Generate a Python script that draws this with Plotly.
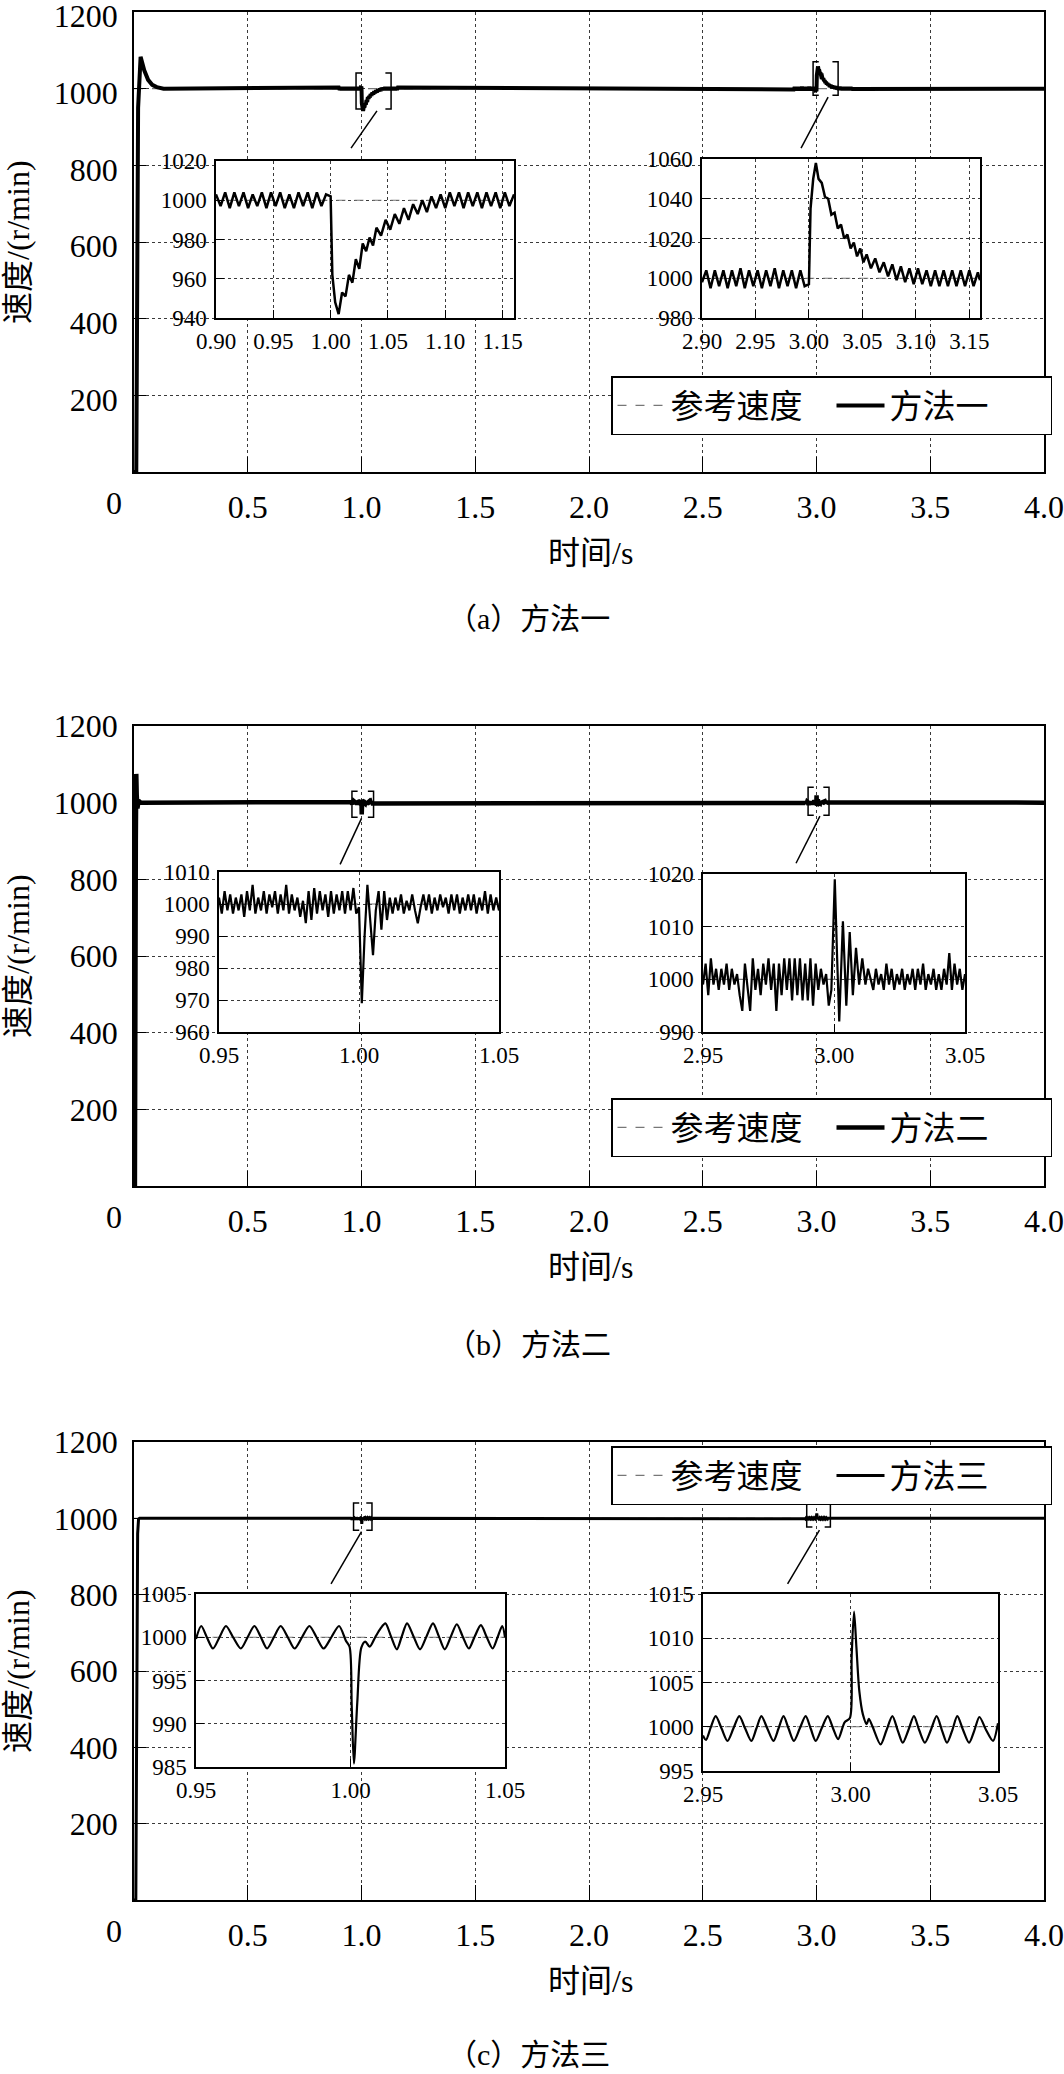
import plotly.graph_objects as go

W, H = 1064, 2074
FONT = "'Liberation Serif', 'Times New Roman', 'Noto Sans CJK SC', serif"

# ---------------- data ----------------
ref_t = [0.0, 4.0]
ref_v = [1000, 1000]
end_t = [4.0]
end_v = [1000]

# start-up transients (main plots)
start_a_t = [0.0, 0.010, 0.018, 0.024, 0.029, 0.035, 0.045, 0.062, 0.080, 0.100, 0.130]
start_a_v = [0, 0, 950, 1070, 1083, 1070, 1048, 1023, 1010, 1004, 1000]
start_b_t = [0.0, 0.004, 0.008, 0.010, 0.012, 0.015, 0.020, 0.030]
start_b_v = [0, 0, 900, 1075, 1020, 985, 1005, 1000]
start_c_t = [0.0, 0.008, 0.016, 0.020, 0.025]
start_c_v = [0, 0, 960, 998, 1000]

# method 1, load step at 1.0 s
a1_t = [0.900, 0.904, 0.908, 0.912, 0.916, 0.920, 0.924, 0.928, 0.932, 0.936, 0.940, 0.944, 0.948,
        0.952, 0.956, 0.960, 0.964, 0.968, 0.972, 0.976, 0.980, 0.984, 0.988, 0.992, 0.996,
        1.000, 1.0015, 1.004, 1.007, 1.010, 1.013, 1.016, 1.019, 1.022, 1.025, 1.028, 1.031, 1.034,
        1.037, 1.040, 1.044, 1.048, 1.052, 1.056, 1.060, 1.064, 1.068, 1.072, 1.076, 1.080, 1.084,
        1.088, 1.092, 1.096, 1.100, 1.104, 1.108, 1.112, 1.116, 1.120, 1.124, 1.128, 1.132, 1.136,
        1.140, 1.144, 1.148, 1.152, 1.156, 1.160]
a1_v = [1003, 997, 1004, 996, 1004, 997, 1004, 996, 1003, 997, 1004, 996, 1004,
        997, 1004, 996, 1003, 996, 1004, 997, 1004, 996, 1004, 997, 1003,
        1002, 962, 948, 942, 953, 951, 962, 958, 970, 965, 978, 974, 981,
        977, 986, 982, 990, 985, 993, 988, 996, 990, 998, 993, 1000, 994,
        1002, 996, 1003, 996, 1004, 997, 1004, 996, 1004, 997, 1004, 996, 1004,
        997, 1004, 996, 1004, 997, 1003]

# method 1, load removal at 3.0 s
a2_t = [2.900, 2.904, 2.908, 2.912, 2.916, 2.920, 2.924, 2.928, 2.932, 2.936, 2.940, 2.944, 2.948,
        2.952, 2.956, 2.960, 2.964, 2.968, 2.972, 2.976, 2.980, 2.984, 2.988, 2.992, 2.996,
        3.000, 3.0015, 3.004, 3.0065, 3.009, 3.012, 3.015, 3.018, 3.021, 3.024, 3.027, 3.030, 3.033,
        3.036, 3.039, 3.042, 3.045, 3.048, 3.051, 3.054, 3.058, 3.062, 3.066, 3.070, 3.074, 3.078,
        3.082, 3.086, 3.090, 3.094, 3.098, 3.102, 3.106, 3.110, 3.114, 3.118, 3.122, 3.126, 3.130,
        3.134, 3.138, 3.142, 3.146, 3.150, 3.154, 3.158, 3.160]
a2_v = [998, 1004, 995, 1004, 996, 1004, 995, 1004, 996, 1005, 995, 1004, 996,
        1004, 995, 1004, 996, 1005, 995, 1004, 996, 1004, 995, 1004, 996,
        997, 1035, 1050, 1058, 1050, 1048, 1041, 1040, 1032, 1033, 1025, 1027, 1020,
        1022, 1015, 1018, 1011, 1015, 1008, 1012, 1005, 1010, 1003, 1008, 1001, 1007,
        999, 1006, 998, 1005, 997, 1005, 997, 1004, 996, 1004, 996, 1004, 996,
        1004, 996, 1004, 996, 1004, 996, 1003, 999]

# method 2, load step at 1.0 s
b1_t = [0.950, 0.951, 0.952, 0.953, 0.954, 0.955, 0.956, 0.957, 0.958, 0.959,
        0.960, 0.961, 0.962, 0.963, 0.964, 0.965, 0.966, 0.967, 0.968, 0.969,
        0.970, 0.971, 0.972, 0.973, 0.974, 0.975, 0.976, 0.977, 0.978, 0.979,
        0.980, 0.981, 0.982, 0.983, 0.984, 0.985, 0.986, 0.987, 0.988, 0.989,
        0.990, 0.991, 0.992, 0.993, 0.994, 0.995, 0.996, 0.997, 0.998, 0.999,
        1.000, 1.001, 1.002, 1.003, 1.004, 1.005, 1.006, 1.007, 1.008, 1.009,
        1.010, 1.011, 1.012, 1.013, 1.014, 1.015, 1.016, 1.017, 1.018, 1.019,
        1.020, 1.021, 1.022, 1.023, 1.024, 1.025, 1.026, 1.027, 1.028, 1.029,
        1.030, 1.031, 1.032, 1.033, 1.034, 1.035, 1.036, 1.037, 1.038, 1.039,
        1.040, 1.041, 1.042, 1.043, 1.044, 1.045, 1.046, 1.047, 1.048, 1.049, 1.050]
b1_v = [1002, 997, 1004, 998, 1003, 997, 1002, 998, 1003, 996,
        1004, 998, 1006, 997, 1002, 998, 1004, 997, 1003, 999,
        1004, 997, 1003, 998, 1006, 997, 1003, 998, 1002, 996,
        1001, 994, 1004, 995, 1005, 997, 1004, 998, 1003, 996,
        1004, 997, 1003, 998, 1004, 997, 1004, 998, 1005, 997,
        999, 969, 990, 1006, 995, 984, 998, 1004, 992, 1004,
        995, 1002, 997, 1002, 998, 1003, 997, 1001, 998, 1003,
        998, 994, 999, 1003, 998, 1003, 997, 1002, 998, 1003,
        999, 1002, 997, 1003, 998, 1003, 997, 1002, 998, 1003,
        998, 1003, 997, 1002, 998, 1004, 997, 1003, 998, 1002, 998]

# method 2, load removal at 3.0 s
b2_t = [2.950, 2.951, 2.952, 2.953, 2.954, 2.955, 2.956, 2.957, 2.958, 2.959,
        2.960, 2.961, 2.962, 2.963, 2.964, 2.965, 2.966, 2.967, 2.968, 2.969,
        2.970, 2.971, 2.972, 2.973, 2.974, 2.975, 2.976, 2.977, 2.978, 2.979,
        2.980, 2.981, 2.982, 2.983, 2.984, 2.985, 2.986, 2.987, 2.988, 2.989,
        2.990, 2.991, 2.992, 2.993, 2.994, 2.995, 2.996, 2.997, 2.998, 2.999,
        3.0003, 3.0012, 3.0020, 3.0034, 3.0047, 3.0060, 3.0072, 3.0084, 3.0096, 3.0108,
        3.0120, 3.013, 3.014,
        3.015, 3.016, 3.017, 3.018, 3.019, 3.020, 3.021, 3.022, 3.023, 3.024,
        3.025, 3.026, 3.027, 3.028, 3.029, 3.030, 3.031, 3.032, 3.033, 3.034,
        3.035, 3.036, 3.037, 3.038, 3.039, 3.040, 3.041, 3.042, 3.043, 3.044,
        3.045, 3.046, 3.047, 3.048, 3.049, 3.050]
b2_v = [999, 1003, 997, 1004, 999, 1002, 998, 1002, 999, 1003,
        998, 1002, 999, 1001, 997, 994, 1003, 998, 994, 1004,
        998, 1002, 997, 1003, 999, 1004, 998, 1003, 994, 1003,
        997, 1004, 998, 1004, 996, 1004, 997, 1004, 996, 1003,
        996, 1004, 995, 1003, 998, 1002, 999, 1001, 995, 998,
        1019, 1004, 992, 1011, 995, 1009, 997, 1006, 999, 1004,
        999, 1002, 1000,
        998, 1002, 999, 1001, 998, 1003, 999, 1002, 998, 1001,
        999, 1002, 998, 1001, 999, 1002, 998, 1002, 999, 1003,
        998, 1001, 999, 1002, 998, 1001, 998, 1002, 999, 1005,
        998, 1003, 999, 1002, 998, 1001]

# method 3, load step at 1.0 s
c1_t = [0.9500, 0.9517, 0.9535, 0.9555, 0.9576, 0.9597, 0.9620, 0.9645, 0.9667, 0.9689,
        0.9710, 0.9730, 0.9752, 0.9774, 0.9797, 0.9819, 0.9843, 0.9867, 0.9890, 0.9913,
        0.9938, 0.9963, 0.9985, 0.9997, 1.0004, 1.0011, 1.0022, 1.0035, 1.0048, 1.0062,
        1.0080, 1.0097, 1.0113, 1.0131, 1.0150, 1.0166, 1.0183, 1.0204, 1.0225, 1.0246,
        1.0267, 1.0286, 1.0305, 1.0325, 1.0344, 1.0363, 1.0383, 1.0402, 1.0422, 1.0441,
        1.0460, 1.0476, 1.0491, 1.0500]
c1_v = [999.8, 1001.3, 1000.0, 998.7, 1000.0, 1001.3, 1000.0, 998.7, 1000.0, 1001.3,
        1000.0, 998.7, 1000.0, 1001.3, 1000.0, 998.7, 1000.0, 1001.3, 1000.0, 998.7,
        1000.0, 1001.3, 999.6, 998.9, 992.0, 985.4, 992.5, 998.8, 999.5, 998.9,
        1000.0, 1001.0, 1001.6, 1000.1, 998.6, 1000.1, 1001.6, 1000.1, 998.6, 1000.1,
        1001.6, 1000.1, 998.6, 1000.1, 1001.5, 1000.1, 998.7, 1000.1, 1001.4, 1000.0,
        998.7, 1000.0, 1001.3, 1000.0]

# method 3, load removal at 3.0 s
c2_t = [2.9500, 2.9510, 2.9526, 2.9543, 2.9563, 2.9583, 2.9603, 2.9623, 2.9643, 2.9664,
        2.9681, 2.9698, 2.9718, 2.9739, 2.9756, 2.9773, 2.9790, 2.9808, 2.9828, 2.9848,
        2.9865, 2.9882, 2.9902, 2.9923, 2.9941, 2.9958, 2.9980, 2.9998, 3.0004, 3.0012,
        3.0020, 3.0030, 3.0042, 3.0055, 3.0062, 3.0075, 3.0102, 3.0122, 3.0142, 3.0160,
        3.0177, 3.0196, 3.0215, 3.0233, 3.0252, 3.0272, 3.0292, 3.0310, 3.0327, 3.0345,
        3.0362, 3.0382, 3.0402, 3.0420, 3.0437, 3.0460, 3.0483, 3.0500]
c2_v = [999.0, 998.5, 999.9, 1001.2, 999.8, 998.4, 999.8, 1001.2, 999.8, 998.4,
        999.8, 1001.2, 999.8, 998.4, 999.8, 1001.2, 999.8, 998.4, 999.8, 1001.2,
        999.8, 998.4, 999.8, 1001.2, 999.8, 998.6, 1000.5, 1001.0, 1008.0, 1013.0,
        1009.0, 1004.0, 1001.4, 1000.3, 1000.9, 1000.0, 998.0, 999.6, 1001.2, 999.6,
        998.2, 999.6, 1001.2, 999.6, 998.2, 999.6, 1001.2, 999.6, 998.2, 999.6,
        1001.2, 999.6, 998.2, 999.6, 1001.1, 999.6, 998.4, 1000.4]

# tick labels
main_xt = [0, 0.5, 1.0, 1.5, 2.0, 2.5, 3.0, 3.5, 4.0]
main_xtt = ["", "0.5", "1.0", "1.5", "2.0", "2.5", "3.0", "3.5", "4.0"]
main_yt = [200, 400, 600, 800, 1000, 1200]
a1_xt = [0.90, 0.95, 1.00, 1.05, 1.10, 1.15]
a1_xtt = ["0.90", "0.95", "1.00", "1.05", "1.10", "1.15"]
a1_yt = [940, 960, 980, 1000, 1020]
a2_xt = [2.90, 2.95, 3.00, 3.05, 3.10, 3.15]
a2_xtt = ["2.90", "2.95", "3.00", "3.05", "3.10", "3.15"]
a2_yt = [980, 1000, 1020, 1040, 1060]
b1_xt = [0.95, 1.00, 1.05]
b1_xtt = ["0.95", "1.00", "1.05"]
b1_yt = [960, 970, 980, 990, 1000, 1010]
b2_xt = [2.95, 3.00, 3.05]
b2_xtt = ["2.95", "3.00", "3.05"]
b2_yt = [990, 1000, 1010, 1020]
c1_yt = [985, 990, 995, 1000, 1005]
c2_yt = [995, 1000, 1005, 1010, 1015]

ref_name = "参考速度"
method_names = ["方法一", "方法二", "方法三"]
captions = ["（a）方法一", "（b）方法二", "（c）方法三"]
y_title = "速度/(r/min)"
x_title = "时间/s"

# ---------------- layout helpers ----------------
def fx(p):
    return p / W

def fy(p):
    return 1 - p / H

GRID = dict(showgrid=True, gridcolor="#3a3a3a", griddash="dot", gridwidth=1, zeroline=False,
            automargin=False, ticklabeloverflow="allow")
LINE = dict(showline=True, linecolor="black", linewidth=1.5, mirror=True)

fig = go.Figure()

# main panels: (y top px, y bottom px, legend top px, caption y px)
mains = [(12, 472, 376, 618), (726, 1186, 1098, 1344), (1442, 1900, 1446, 2054)]
main_x0, main_x1 = 134, 1044

main_series = [
    (start_a_t + a1_t + a2_t + end_t, start_a_v + a1_v + a2_v + end_v, 4.0),
    (start_b_t + b1_t + b2_t + end_t, start_b_v + b1_v + b2_v + end_v, 4.5),
    (start_c_t + c1_t + c2_t + end_t, start_c_v + c1_v + c2_v + end_v, 3.0),
]

layout = dict(template="none", width=W, height=H, margin=dict(l=0, r=0, t=0, b=0, pad=0, autoexpand=False),
              paper_bgcolor="white", plot_bgcolor="white",
              font=dict(family=FONT, color="black"), showlegend=True)
annotations = []
shapes = []

for i, (ytop, ybot, legtop, capy) in enumerate(mains):
    n = i + 1
    xs = "" if n == 1 else str(n)
    legname = "legend" if n == 1 else "legend%d" % n
    layout["xaxis" + xs] = dict(domain=[fx(main_x0), fx(main_x1)], range=[0, 4], anchor="y" + xs,
                               tickvals=main_xt, ticktext=main_xtt, ticks="inside", ticklen=15,
                               tickcolor="black", tickwidth=1.2, tickfont=dict(size=32, family=FONT),
                               ticklabelstandoff=6, **GRID, **LINE)
    layout["yaxis" + xs] = dict(domain=[fy(ybot), fy(ytop)], range=[0, 1200], anchor="x" + xs,
                               tickvals=main_yt, ticks="inside", ticklen=12, tickcolor="black",
                               tickwidth=1.2, tickfont=dict(size=32, family=FONT), ticklabelstandoff=8,
                               ticklabelshift=(4 if n == 1 else 0),
                               **GRID, **LINE)
    t, v, lw = main_series[i]
    fig.add_trace(go.Scatter(x=ref_t, y=ref_v, mode="lines", name=ref_name,
                             line=dict(color="#777", width=1.3, dash="dash"),
                             xaxis="x" + xs, yaxis="y" + xs, legend=legname))
    fig.add_trace(go.Scatter(x=t, y=v, mode="lines", name=method_names[i],
                             line=dict(color="black", width=lw),
                             xaxis="x" + xs, yaxis="y" + xs, legend=legname))
    layout[legname] = dict(x=fx(611), y=fy(legtop), xanchor="left", yanchor="top",
                           orientation="h", bgcolor="white", bordercolor="black", borderwidth=1.5,
                           font=dict(size=33, family=FONT), itemwidth=48, entrywidth=156,
                           tracegroupgap=0)
    ymid = (ytop + ybot) / 2
    annotations.append(dict(text=y_title, x=fx(18), y=fy(ymid), xref="paper", yref="paper",
                            textangle=-90, showarrow=False, font=dict(size=32, family=FONT),
                            xanchor="center", yanchor="middle"))
    annotations.append(dict(text=x_title, x=fx(590), y=fy(ybot + 81), xref="paper", yref="paper",
                            showarrow=False, font=dict(size=32, family=FONT), xanchor="center", yanchor="middle"))
    annotations.append(dict(text=captions[i], x=fx(528), y=fy(capy), xref="paper", yref="paper",
                            showarrow=False, font=dict(size=30, family=FONT), xanchor="center", yanchor="middle"))
    annotations.append(dict(text="0", x=fx(114), y=fy(ybot + 31), xref="paper", yref="paper",
                            showarrow=False, font=dict(size=32, family=FONT), xanchor="center", yanchor="middle"))

# insets
insets = [
    ((216, 514), (161, 318), [0.90, 1.16], [940, 1020], a1_xt, a1_xtt, a1_yt, (a1_t, a1_v), 2.5, "linear"),
    ((702, 980), (159, 318), [2.90, 3.16], [980, 1060], a2_xt, a2_xtt, a2_yt, (a2_t, a2_v), 2.5, "linear"),
    ((219, 499), (872, 1032), [0.95, 1.05], [960, 1010], b1_xt, b1_xtt, b1_yt, (b1_t, b1_v), 2.2, "linear"),
    ((703, 965), (874, 1032), [2.95, 3.05], [990, 1020], b2_xt, b2_xtt, b2_yt, (b2_t, b2_v), 2.2, "linear"),
    ((196, 505), (1594, 1767), [0.95, 1.05], [985, 1005], b1_xt, b1_xtt, c1_yt, (c1_t, c1_v), 2.2, "spline"),
    ((703, 998), (1594, 1771), [2.95, 3.05], [995, 1015], b2_xt, b2_xtt, c2_yt, (c2_t, c2_v), 2.2, "spline"),
]

for k, (xpx, ypx, xr, yr, xt, xtt, yt, (dt, dv), lw, shape) in enumerate(insets):
    n = k + 4
    xs = str(n)
    layout["xaxis" + xs] = dict(domain=[fx(xpx[0]), fx(xpx[1])], range=xr, anchor="y" + xs,
                               tickvals=xt, ticktext=xtt, ticks="inside", ticklen=8, tickcolor="black",
                               tickwidth=1.2, tickfont=dict(size=23, family=FONT), ticklabelstandoff=2,
                               **GRID, **LINE)
    layout["yaxis" + xs] = dict(domain=[fy(ypx[1]), fy(ypx[0])], range=yr, anchor="x" + xs,
                               tickvals=yt, ticks="inside", ticklen=8, tickcolor="black",
                               tickwidth=1.2, tickfont=dict(size=23, family=FONT), ticklabelstandoff=3,
                               **GRID, **LINE)
    shapes.append(dict(type="rect", xref="x" + xs, yref="y" + xs, x0=xr[0], x1=xr[1], y0=yr[0], y1=yr[1],
                       fillcolor="white", line=dict(width=0), layer="below"))
    fig.add_trace(go.Scatter(x=ref_t, y=ref_v, mode="lines", showlegend=False,
                             line=dict(color="#777", width=1.2, dash="dash"),
                             xaxis="x" + xs, yaxis="y" + xs))
    fig.add_trace(go.Scatter(x=dt, y=dv, mode="lines", showlegend=False,
                             line=dict(color="black", width=lw, shape=shape, smoothing=0.8),
                             xaxis="x" + xs, yaxis="y" + xs))

# zoom brackets and leader lines on main axes
brackets = [
    (0, 0.976, 1.130, 947, 1041, (1.068, 942), (0.954, 845)),
    (0, 2.985, 3.095, 983, 1070, (3.051, 978), (2.932, 845)),
    (1, 0.958, 1.053, 962, 1030, (1.000, 959), (0.906, 839)),
    (1, 2.963, 3.055, 967, 1040, (3.015, 965), (2.910, 842)),
    (2, 0.965, 1.046, 969, 1040, (1.000, 965), (0.866, 828)),
    (2, 2.957, 3.061, 977, 1043, (3.013, 969), (2.873, 828)),
]
arm = 0.025
for pi, x0, x1, y0, y1, p0, p1 in brackets:
    xs = "" if pi == 0 else str(pi + 1)
    xref, yref = "x" + xs, "y" + xs
    left = "M %f,%f L %f,%f L %f,%f L %f,%f" % (x0 + arm, y1, x0, y1, x0, y0, x0 + arm, y0)
    right = "M %f,%f L %f,%f L %f,%f L %f,%f" % (x1 - arm, y1, x1, y1, x1, y0, x1 - arm, y0)
    for path in (left, right):
        shapes.append(dict(type="path", path=path, xref=xref, yref=yref,
                           line=dict(color="black", width=1.5), layer="above"))
    shapes.append(dict(type="line", xref=xref, yref=yref, x0=p0[0], y0=p0[1], x1=p1[0], y1=p1[1],
                       line=dict(color="black", width=1.5), layer="above"))

layout["annotations"] = annotations
layout["shapes"] = shapes
fig.update_layout(**layout)

fig.write_html("out.html", config={"displayModeBar": False},
               post_script="document.body.style.margin='0';document.body.style.overflow='hidden';")
